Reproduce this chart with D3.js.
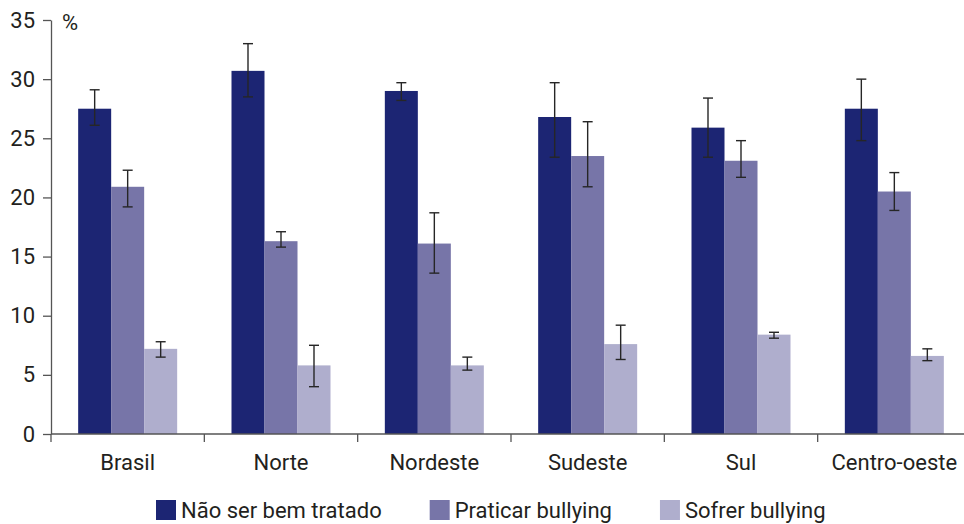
<!DOCTYPE html>
<html>
<head>
<meta charset="utf-8">
<script src="https://cdn.jsdelivr.net/npm/d3@7"></script>
<style>
  body { margin: 0; background: #fff; }
  svg { display: block; font-family: Roboto, "DejaVu Sans", sans-serif; }
</style>
</head>
<body>
<svg id="chart" width="964" height="524"></svg>
<script>
// Data
const regions = ['Brasil', 'Norte', 'Nordeste', 'Sudeste', 'Sul', 'Centro-oeste'];
const series = ['Não ser bem tratado', 'Praticar bullying', 'Sofrer bullying'];
const colors = ['#1c2573', '#7775a8', '#afaecd'];

const naoTratado    = [27.5, 30.7, 29.0, 26.8, 25.9, 27.5];
const naoTratadoLo  = [26.1, 28.5, 28.2, 23.4, 23.4, 24.8];
const naoTratadoHi  = [29.1, 33.0, 29.7, 29.7, 28.4, 30.0];

const praticar      = [20.9, 16.3, 16.1, 23.5, 23.1, 20.5];
const praticarLo    = [19.2, 15.8, 13.6, 20.9, 21.7, 18.9];
const praticarHi    = [22.3, 17.1, 18.7, 26.4, 24.8, 22.1];

const sofrer        = [7.2, 5.8, 5.8, 7.6, 8.4, 6.6];
const sofrerLo      = [6.5, 4.0, 5.4, 6.3, 8.1, 6.2];
const sofrerHi      = [7.8, 7.5, 6.5, 9.2, 8.6, 7.2];

const yTicks = [0, 5, 10, 15, 20, 25, 30, 35];

const values = [naoTratado, praticar, sofrer];
const lows = [naoTratadoLo, praticarLo, sofrerLo];
const highs = [naoTratadoHi, praticarHi, sofrerHi];

const rows = [];
regions.forEach((r, i) => {
  series.forEach((s, j) => {
    rows.push({ region: r, series: s, v: values[j][i], lo: lows[j][i], hi: highs[j][i] });
  });
});

const svg = d3.select('#chart');
const axisColor = '#555';
const textColor = '#231f20';
const fontSize = '22px';

// Scales
const x0 = d3.scaleBand().domain(regions).range([51, 971]).padding(0);
const groupW = 99;
const x1 = d3.scaleBand().domain(series).range([0, groupW]).padding(0);
const y = d3.scaleLinear().domain([0, 35]).range([434, 20]);
const color = d3.scaleOrdinal().domain(series).range(colors);

const groupOffset = (x0.bandwidth() - groupW) / 2;

// Bars
svg.append('g')
  .selectAll('rect')
  .data(rows)
  .join('rect')
  .attr('x', d => x0(d.region) + groupOffset + x1(d.series))
  .attr('y', d => y(d.v))
  .attr('width', x1.bandwidth())
  .attr('height', d => y(0) - y(d.v))
  .attr('fill', d => color(d.series));

// Error bars
const err = svg.append('g')
  .attr('stroke', '#262626')
  .attr('stroke-width', 1.4);

const cx = d => x0(d.region) + groupOffset + x1(d.series) + x1.bandwidth() / 2;

err.selectAll('line.v')
  .data(rows)
  .join('line')
  .attr('class', 'v')
  .attr('x1', cx).attr('x2', cx)
  .attr('y1', d => y(d.lo)).attr('y2', d => y(d.hi));

err.selectAll('line.top')
  .data(rows)
  .join('line')
  .attr('class', 'top')
  .attr('x1', d => cx(d) - 5).attr('x2', d => cx(d) + 5)
  .attr('y1', d => y(d.hi)).attr('y2', d => y(d.hi));

err.selectAll('line.bot')
  .data(rows)
  .join('line')
  .attr('class', 'bot')
  .attr('x1', d => cx(d) - 5).attr('x2', d => cx(d) + 5)
  .attr('y1', d => y(d.lo)).attr('y2', d => y(d.lo));

// Y axis
const yAxis = svg.append('g')
  .attr('transform', 'translate(51,0)')
  .call(d3.axisLeft(y).tickValues(yTicks).tickSize(8).tickPadding(8).tickSizeOuter(0));
yAxis.select('.domain').attr('stroke', axisColor).attr('stroke-width', 1.3);
yAxis.selectAll('.tick line').attr('stroke', axisColor).attr('stroke-width', 1.3);
yAxis.selectAll('.tick text')
  .attr('fill', textColor)
  .style('font-size', fontSize)
  .style('font-family', 'Roboto, sans-serif');

// X axis (ticks at band edges)
const xAxis = svg.append('g').attr('transform', `translate(0,${y(0)})`);
xAxis.append('line')
  .attr('x1', 51).attr('x2', 964)
  .attr('stroke', axisColor).attr('stroke-width', 1.3);
xAxis.selectAll('line.tk')
  .data(regions)
  .join('line')
  .attr('class', 'tk')
  .attr('x1', d => x0(d)).attr('x2', d => x0(d))
  .attr('y1', 0).attr('y2', 8)
  .attr('stroke', axisColor).attr('stroke-width', 1.3);
xAxis.selectAll('text')
  .data(regions)
  .join('text')
  .attr('x', d => x0(d) + x0.bandwidth() / 2)
  .attr('y', 36)
  .attr('text-anchor', 'middle')
  .attr('fill', textColor)
  .style('font-size', fontSize)
  .text(d => d);

// Unit label
svg.append('text')
  .attr('x', 62)
  .attr('y', 30)
  .attr('fill', textColor)
  .style('font-size', fontSize)
  .text('%');

// Legend
const legend = svg.append('g').attr('transform', 'translate(156,500)');
let lx = 0;
series.forEach(s => {
  const item = legend.append('g').attr('transform', `translate(${lx},0)`);
  item.append('rect')
    .attr('width', 20).attr('height', 20)
    .attr('fill', color(s));
  const t = item.append('text')
    .attr('x', 25)
    .attr('y', 18)
    .attr('fill', textColor)
    .style('font-size', fontSize)
    .text(s);
  lx += 25 + t.node().getComputedTextLength() + 48;
});
</script>
</body>
</html>
